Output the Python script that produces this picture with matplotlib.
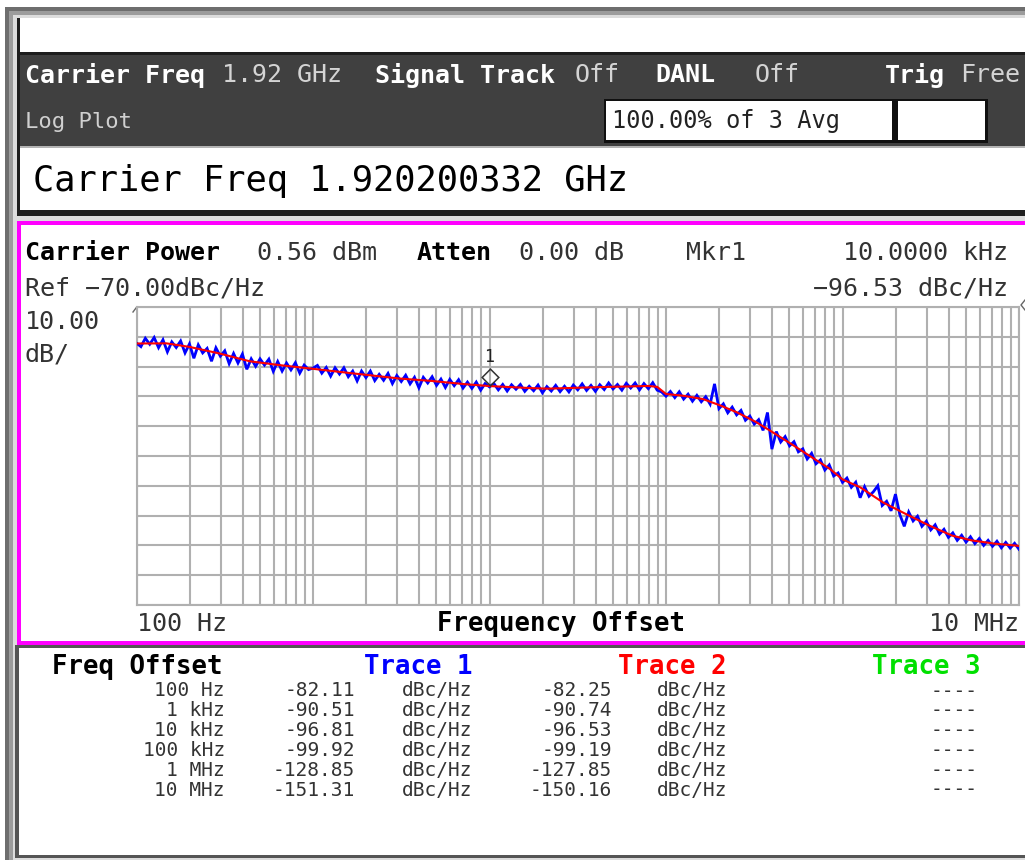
import numpy as np
import matplotlib
matplotlib.use("Agg")
import matplotlib.pyplot as plt
from matplotlib.patches import Rectangle
from matplotlib.ticker import FixedLocator, NullFormatter, NullLocator
import matplotlib.transforms as mtransforms

# ------------------------------------------------------------------ data
f_start_hz = 100.0
f_stop_hz = 10e6
ref_level_dbc = -70.0
db_per_div = 10.0
n_div = 10

# Trace 2 (smoothed, red)
trace2_freq_hz = [100, 148, 200, 295, 437, 646, 1000, 1585, 3090, 4677, 7244,
                  10000, 16982, 21380, 40738, 79433, 89125, 100000, 125893,
                  162181, 204174, 251189, 323594, 389045, 501187, 660693,
                  851138, 1000000, 1258925, 1698244, 2290868, 3090295,
                  4168694, 5370318, 7244360, 10000000]
trace2_dbc = [-82.25, -82.2, -83.4, -85.6, -88.2, -89.5, -90.74, -92.1, -94.0,
              -94.8, -95.9, -96.53, -97.2, -97.4, -96.9, -96.5, -96.8, -99.19,
              -99.8, -100.9, -103.1, -105.3, -108.6, -111.5, -115.6, -120.2,
              -124.4, -127.85, -130.5, -135.6, -139.5, -143.3, -146.7, -148.3,
              -149.4, -150.16]

# Trace 1 (raw, blue), 40 points per decade
trace1_dbc = [
    # 100 Hz - 1 kHz
    -82.11, -83.3, -80.5, -82.5, -80.25, -83.65, -81.0, -85.05, -81.7, -83.6,
    -81.4, -85.4, -82.4, -87.2, -82.7, -85.4, -83.9, -88.2, -83.7, -86.5,
    -84.7, -89.0, -85.6, -88.8, -85.8, -90.9, -87.4, -89.9, -87.4, -89.5,
    -87.5, -91.6, -88.3, -91.5, -88.8, -91.1, -88.7, -92.2, -89.5, -91.0,
    # 1 kHz - 10 kHz
    -90.51, -89.6, -92.2, -90.3, -93.2, -90.4, -92.5, -90.4, -93.4, -91.5,
    -94.8, -91.5, -93.7, -91.5, -94.7, -92.6, -94.6, -92.3, -95.7, -93.0,
    -95.0, -92.9, -95.8, -93.6, -97.1, -93.6, -95.5, -93.4, -96.3, -94.2,
    -97.0, -94.3, -96.4, -94.4, -97.2, -95.2, -97.3, -95.2, -97.9, -95.7,
    # 10 kHz - 100 kHz
    -96.81, -95.7, -97.8, -96.0, -98.2, -96.1, -97.6, -96.0, -98.3, -96.6,
    -98.1, -96.2, -98.8, -96.7, -98.2, -96.3, -98.4, -96.6, -98.5, -96.2,
    -97.8, -95.8, -98.0, -96.3, -98.3, -96.1, -97.7, -95.5, -97.5, -96.0,
    -97.9, -95.6, -97.2, -95.5, -97.8, -95.7, -97.4, -95.4, -97.9, -98.5,
    # 100 kHz - 1 MHz
    -99.92, -98.35, -100.4, -98.45, -100.9, -99.25, -101.6, -99.65, -101.8, -100.1,
    -102.6, -95.8, -104.1, -102.5, -105.5, -103.6, -106.2, -104.7, -108.0, -106.6,
    -109.3, -107.8, -111.4, -105.4, -117.7, -111.8, -115.3, -113.5, -116.6, -115.2,
    -118.6, -117.6, -121.0, -119.1, -122.6, -121.3, -124.7, -123.0, -126.7, -125.7,
    # 1 MHz - 10 MHz
    -128.85, -127.4, -130.5, -128.8, -134.0, -130.3, -133.5, -132.0, -130.0, -136.6,
    -135.2, -138.4, -132.8, -139.7, -143.6, -138.8, -141.8, -140.2, -143.6, -141.9,
    -144.8, -143.1, -146.2, -144.6, -147.3, -145.8, -148.3, -146.6, -148.9, -147.1,
    -149.4, -147.7, -150.0, -148.3, -150.3, -148.6, -150.8, -149.0, -150.9, -149.3,
    -151.31,
]
trace1_freq_hz = np.logspace(np.log10(f_start_hz), np.log10(f_stop_hz), len(trace1_dbc))

marker_freq_hz = 10000.0
marker_dbc = -96.53

table_offsets = ["100 Hz", "1 kHz", "10 kHz", "100 kHz", "1 MHz", "10 MHz"]
table_trace1 = [-82.11, -90.51, -96.81, -99.92, -128.85, -151.31]
table_trace2 = [-82.25, -90.74, -96.53, -99.19, -127.85, -150.16]

# ------------------------------------------------------------------ figure
W, H = 1025, 860
fig = plt.figure(figsize=(W / 100, H / 100), dpi=100)
bg = fig.add_axes([0, 0, 1, 1])
bg.set_xlim(0, W)
bg.set_ylim(H, 0)
bg.axis("off")

MONO = "DejaVu Sans Mono"


def rect(x0, y0, x1, y1, fc, z=1):
    bg.add_patch(Rectangle((x0, y0), x1 - x0, y1 - y0, facecolor=fc,
                           edgecolor="none", zorder=z))


def txt(x, y, s, size=18, color="black", weight="normal", ha="left", va="center"):
    bg.text(x, y, s, fontsize=size, color=color, fontweight=weight, ha=ha,
            va=va, family=MONO, zorder=10)


# window frame
rect(0, 0, W, H, "white", 0)
rect(5, 7, W, H, "#6e6e6e", 0.1)
rect(9, 11, W, H, "#9c9c9c", 0.2)
rect(13, 15, W, H, "#dcdcdc", 0.3)
rect(17, 18, W, 216, "#1e1e1e", 0.4)
rect(20, 18, W, 52, "white", 0.5)
rect(20, 55, W, 146, "#404040", 0.5)
rect(20, 146, W, 148, "#b4b4b4", 0.5)
rect(20, 148, W, 210, "white", 0.5)
# magenta measurement panel
rect(17, 221, W, 645, "#ff00ff", 0.5)
rect(21, 225, W, 641, "white", 0.6)
# bottom results panel
rect(15, 645, W, 858, "#555555", 0.5)
rect(19, 648, W, 855, "white", 0.6)
# boxes in the status band
rect(604, 99, 895, 143, "#101010", 0.7)
rect(606, 101, 892, 140, "white", 0.8)
rect(895, 99, 988, 143, "#101010", 0.7)
rect(898, 101, 985, 140, "white", 0.8)

# status band text
txt(25, 75, "Carrier Freq", 18, "white", "bold")
txt(222, 75, "1.92 GHz", 18, "#d4d4d4")
txt(375, 75, "Signal Track", 18, "white", "bold")
txt(575, 75, "Off", 18, "#d4d4d4")
txt(655, 75, "DANL", 18, "white", "bold")
txt(755, 75, "Off", 18, "#d4d4d4")
txt(885, 75, "Trig", 18, "white", "bold")
txt(960, 75, "Free", 18, "#d4d4d4")
txt(25, 122, "Log Plot", 16, "#d0d0d0")
txt(612, 121, "100.00% of 3 Avg", 17, "#222222")

txt(33, 181, "Carrier Freq 1.920200332 GHz", 25.5, "black")

# panel header text
txt(25, 253, "Carrier Power", 18, "black", "bold")
txt(257, 253, "0.56 dBm", 18, "#333333")
txt(417, 253, "Atten", 18, "black", "bold")
txt(519, 253, "0.00 dB", 18, "#333333")
txt(686, 253, "Mkr1", 18, "#333333")
txt(1008, 253, "10.0000 kHz", 18, "#333333", ha="right")
txt(25, 288, "Ref \u221270.00dBc/Hz", 18, "#333333")
txt(1008, 288, "\u221296.53 dBc/Hz", 18, "#333333", ha="right")
txt(25, 322, "10.00", 18, "#333333")
txt(25, 355, "dB/", 18, "#333333")
txt(137, 624, "100 Hz", 18, "#333333")
txt(561, 624, "Frequency Offset", 18.5, "black", "bold", ha="center")
txt(1019, 624, "10 MHz", 18, "#333333", ha="right")

# small reference indicators
bg.plot([1025, 1021, 1025], [300, 305, 310], color="#666666", lw=1, zorder=9)
bg.plot([133, 136], [312, 308], color="#666666", lw=1, zorder=9)

# ------------------------------------------------------------------ trace plot
x0, x1, yt, yb = 136.5, 1019.0, 307.0, 605.0
ax = fig.add_axes([x0 / W, 1 - yb / H, (x1 - x0) / W, (yb - yt) / H])
ax.set_facecolor("white")
ax.set_xscale("log")
ax.set_xlim(f_start_hz, f_stop_hz)
ax.set_ylim(ref_level_dbc - n_div * db_per_div, ref_level_dbc)
grid_c = "#b0b0b0"
decades = [100, 1e3, 1e4, 1e5, 1e6, 1e7]
minors = [m * d for d in decades[:-1] for m in range(2, 10)]
ax.xaxis.set_major_locator(FixedLocator(decades))
ax.xaxis.set_minor_locator(FixedLocator(minors))
ax.yaxis.set_major_locator(FixedLocator(
    [ref_level_dbc - i * db_per_div for i in range(n_div + 1)]))
ax.yaxis.set_minor_locator(NullLocator())
ax.xaxis.set_major_formatter(NullFormatter())
ax.xaxis.set_minor_formatter(NullFormatter())
ax.yaxis.set_major_formatter(NullFormatter())
ax.tick_params(which="both", length=0)
ax.grid(which="both", color=grid_c, lw=1.5)
for sp in ax.spines.values():
    sp.set_color(grid_c)
    sp.set_linewidth(1.5)

ax.plot(trace1_freq_hz, trace1_dbc, color="#0000ff", lw=2.0, zorder=3,
        solid_joinstyle="miter")
ax.plot(trace2_freq_hz, trace2_dbc, color="#ff0000", lw=1.5, zorder=4)

# marker 1 diamond sitting on the trace
off = mtransforms.offset_copy(ax.transData, fig=fig, x=0, y=6.5, units="points")
ax.plot([marker_freq_hz], [marker_dbc], marker=(4, 0, 0), ms=12, mfc="none",
        mec="#333333", mew=1.1, transform=off, zorder=5, clip_on=False)
ax.annotate("1", (marker_freq_hz, marker_dbc), xytext=(0, 21),
            textcoords="offset points", ha="center", va="center",
            fontsize=12, family=MONO, color="#222222", zorder=6)

# ------------------------------------------------------------------ results table
txt(52, 667, "Freq Offset", 18.5, "black", "bold")
txt(473, 667, "Trace 1", 18.5, "#0000ff", "bold", ha="right")
txt(727, 667, "Trace 2", 18.5, "#ff0000", "bold", ha="right")
txt(980, 667, "Trace 3", 18.5, "#00e000", "bold", ha="right")
for i, (lab, v1, v2) in enumerate(zip(table_offsets, table_trace1, table_trace2)):
    y = 691 + 19.8 * i
    txt(225, y, lab, 14, "#333333", ha="right")
    txt(355, y, f"{v1:.2f}", 14, "#333333", ha="right")
    txt(472, y, "dBc/Hz", 14, "#333333", ha="right")
    txt(612, y, f"{v2:.2f}", 14, "#333333", ha="right")
    txt(727, y, "dBc/Hz", 14, "#333333", ha="right")
    txt(978, y, "----", 14, "#333333", ha="right")

fig.savefig("out.png", dpi=100)
